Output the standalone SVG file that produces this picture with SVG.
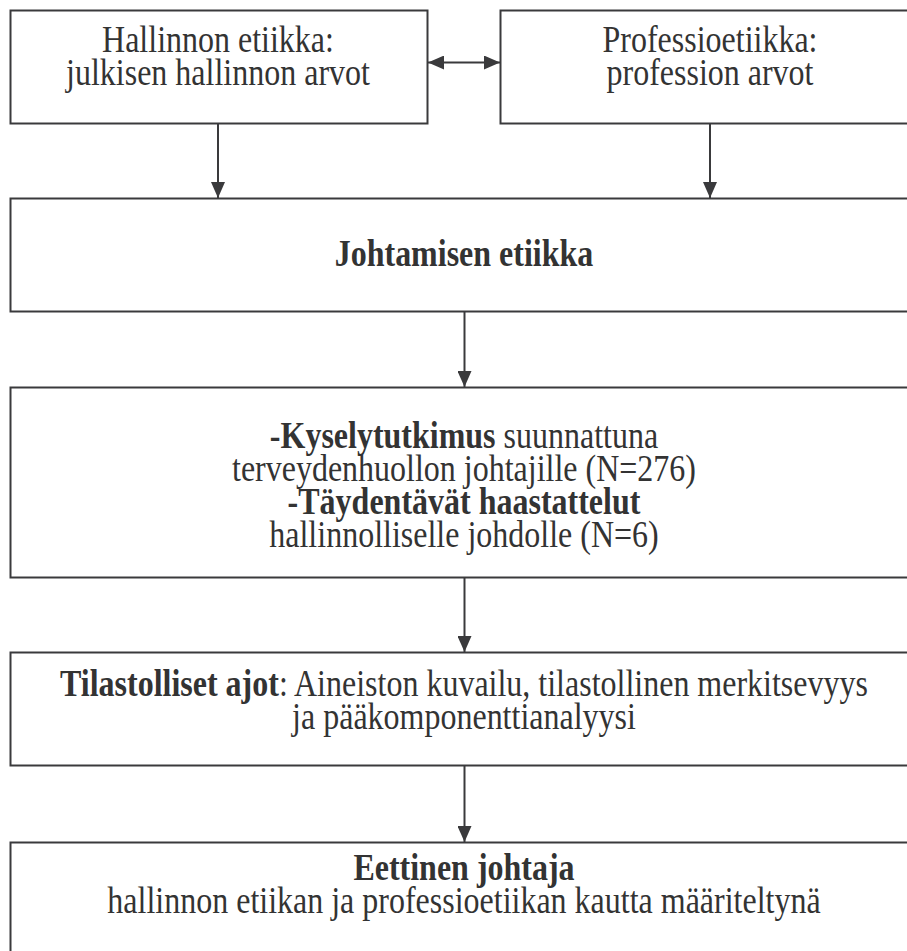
<svg xmlns="http://www.w3.org/2000/svg" width="907" height="951" viewBox="0 0 907 951">
<style>
.box{fill:#fff;stroke:#3a3a3c;stroke-width:2}
.t{font-family:"Liberation Serif","Times New Roman",serif;font-size:32px;fill:#333;text-anchor:middle}
.b{font-weight:bold}
.c{stroke:#3a3a3c;stroke-width:2;fill:none}
</style>
<defs>
<marker id="ah" viewBox="0 0 16 14" refX="16" refY="7" markerWidth="16" markerHeight="14" markerUnits="userSpaceOnUse" orient="auto-start-reverse">
<path d="M0,0 L16,7 L0,14 Z" fill="#3a3a3c"/>
</marker>
</defs>
<rect width="907" height="951" fill="#fff"/>
<g id="hallinnon">
<rect class="box" x="10.5" y="10.5" width="417" height="113"/>
<text class="t" x="218" y="52" transform="matrix(1,0,0,1.18,0,-9.36)">Hallinnon etiikka:</text>
<text class="t" x="218" y="85" transform="matrix(1,0,0,1.18,0,-15.3)">julkisen hallinnon arvot</text>
</g>
<g id="professio">
<rect class="box" x="500.5" y="10.5" width="420" height="113"/>
<text class="t" x="710" y="52" transform="matrix(1,0,0,1.18,0,-9.36)">Professioetiikka:</text>
<text class="t" x="710" y="85" transform="matrix(1,0,0,1.18,0,-15.3)">profession arvot</text>
</g>
<g id="johtamisen">
<rect class="box" x="10.5" y="198.5" width="910" height="113"/>
<text class="t b" x="464" y="266" transform="matrix(1,0,0,1.18,0,-47.88)">Johtamisen etiikka</text>
</g>
<g id="kysely">
<rect class="box" x="10.5" y="387.5" width="910" height="190"/>
<text class="t" x="464" y="448" transform="matrix(1,0,0,1.18,0,-80.64)"><tspan class="b">-Kyselytutkimus</tspan> suunnattuna</text>
<text class="t" x="464" y="481" transform="matrix(1,0,0,1.18,0,-86.58)">terveydenhuollon johtajille (N=276)</text>
<text class="t b" x="464" y="514" transform="matrix(1,0,0,1.18,0,-92.52)">-Täydentävät haastattelut</text>
<text class="t" x="464" y="547" transform="matrix(1,0,0,1.18,0,-98.46)">hallinnolliselle johdolle (N=6)</text>
</g>
<g id="tilasto">
<rect class="box" x="10.5" y="652.5" width="910" height="113"/>
<text class="t" x="464" y="696" transform="matrix(1,0,0,1.18,0,-125.28)"><tspan class="b">Tilastolliset ajot</tspan>: Aineiston kuvailu, tilastollinen merkitsevyys</text>
<text class="t" x="464" y="729" transform="matrix(1,0,0,1.18,0,-131.22)">ja pääkomponenttianalyysi</text>
</g>
<g id="eettinen">
<rect class="box" x="10.5" y="842.5" width="910" height="130"/>
<text class="t b" x="464" y="880" transform="matrix(1,0,0,1.18,0,-158.4)">Eettinen johtaja</text>
<text class="t" x="464" y="913" transform="matrix(1,0,0,1.18,0,-164.34)">hallinnon etiikan ja professioetiikan kautta määriteltynä</text>
</g>
<g id="connectors">
<line class="c" x1="428" y1="62.5" x2="500" y2="62.5" marker-start="url(#ah)" marker-end="url(#ah)"/>
<line class="c" x1="218" y1="124" x2="218" y2="198" marker-end="url(#ah)"/>
<line class="c" x1="710" y1="124" x2="710" y2="198" marker-end="url(#ah)"/>
<line class="c" x1="464.5" y1="312" x2="464.5" y2="387" marker-end="url(#ah)"/>
<line class="c" x1="464.5" y1="578" x2="464.5" y2="652" marker-end="url(#ah)"/>
<line class="c" x1="464.5" y1="766" x2="464.5" y2="842" marker-end="url(#ah)"/>
</g>
</svg>
